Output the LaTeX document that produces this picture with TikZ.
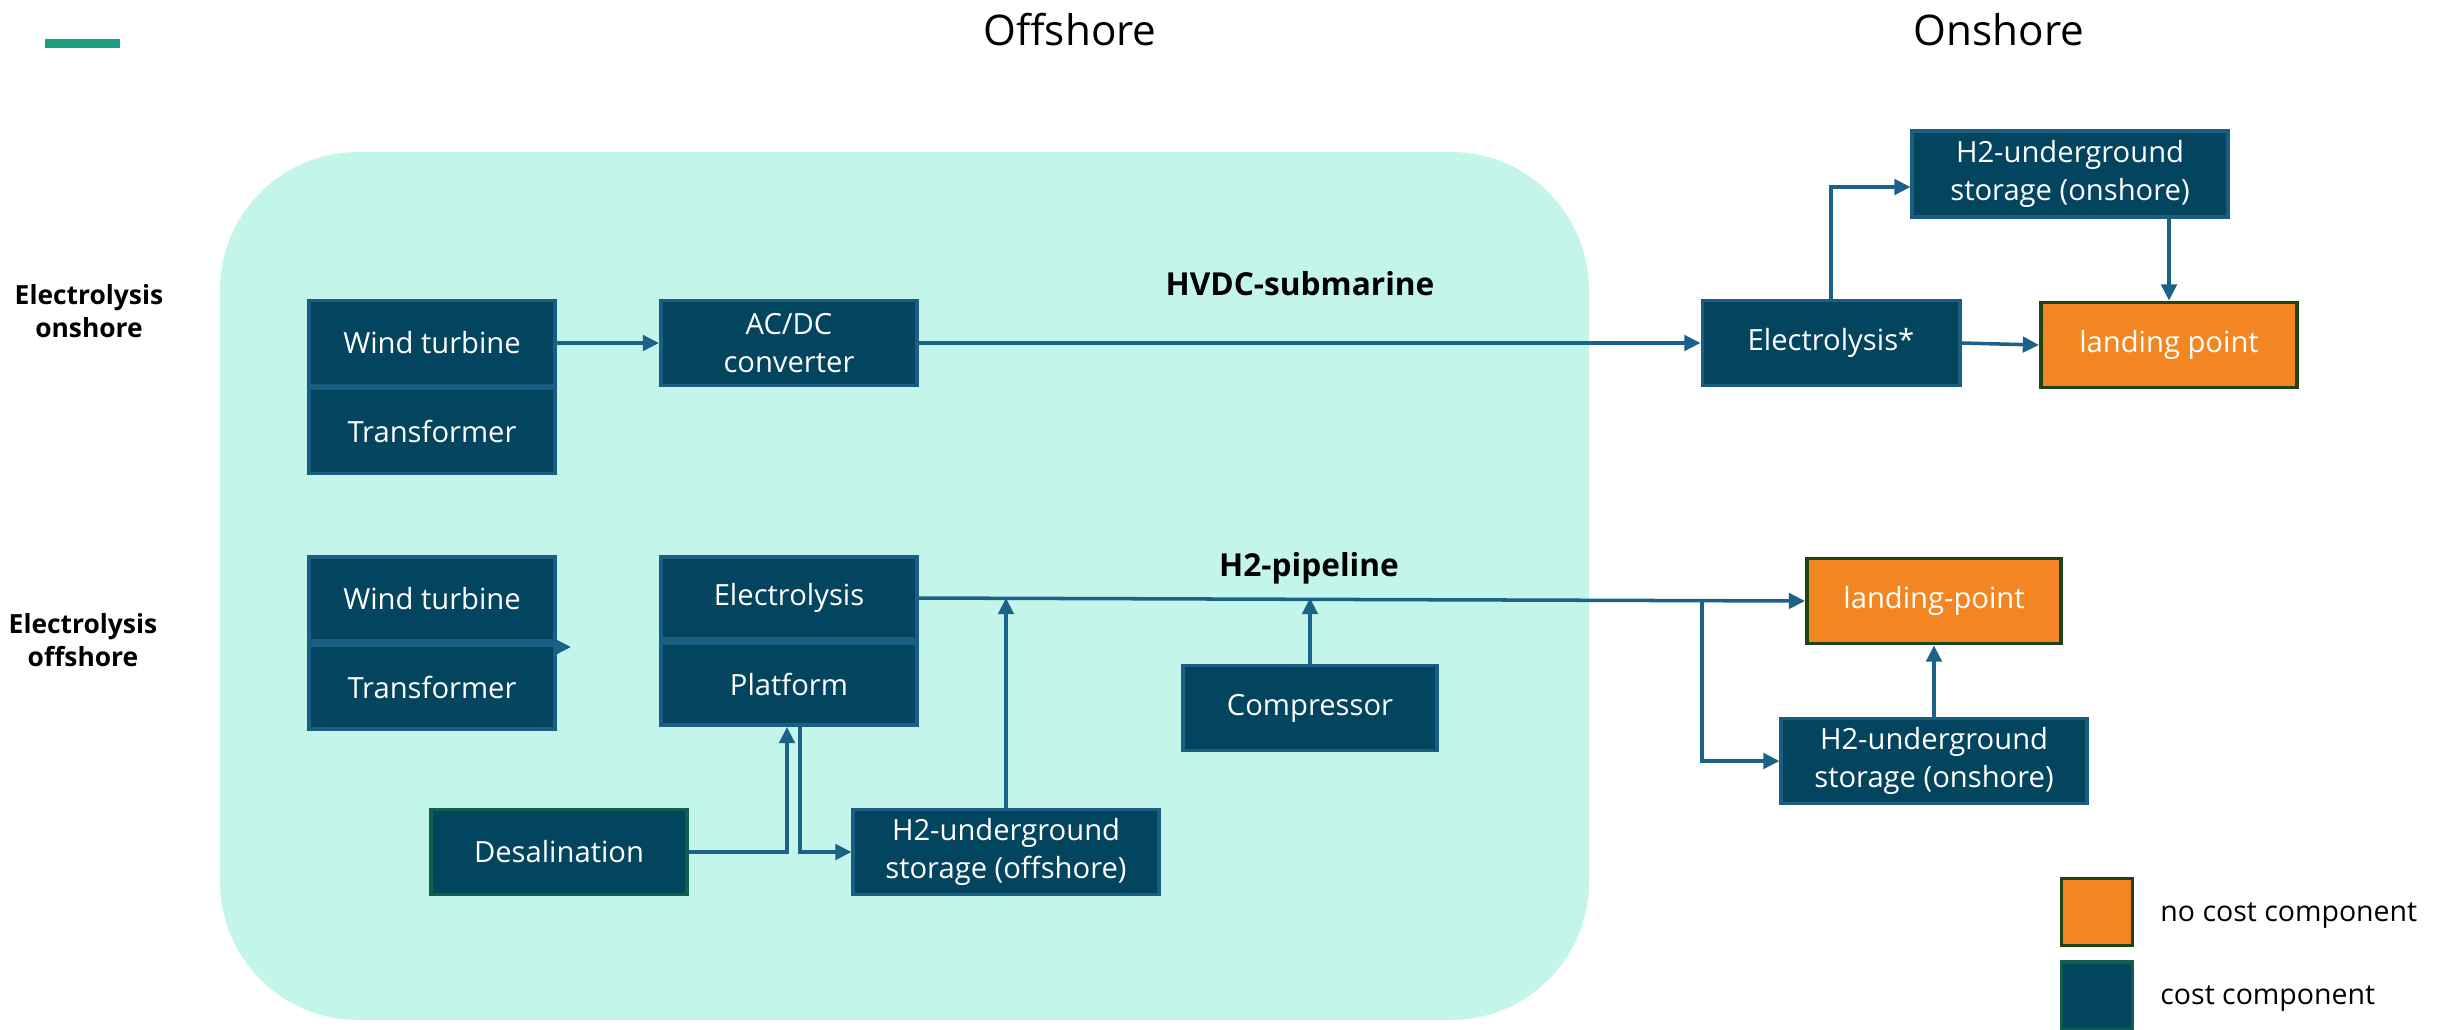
\documentclass[tikz,border=0pt]{standalone}
\usepackage{fontspec}
\setmainfont{Open Sans}
\usetikzlibrary{positioning,arrows.meta}

\definecolor{boxfill}{HTML}{03445E}
\definecolor{boxline}{HTML}{1B5E84}
\definecolor{flowline}{HTML}{1A6287}
\definecolor{landfill}{HTML}{F38623}
\definecolor{landline}{HTML}{1F4513}
\definecolor{saltline}{HTML}{0E5F4D}
\definecolor{seabg}{HTML}{C4F5EA}
\definecolor{dashgreen}{HTML}{1A9E80}

\begin{document}
\begin{tikzpicture}[x=0.01cm, y=-0.01cm,
  >={Triangle[length=4.6pt,width=4.4pt]},
  box/.style={draw=boxline, fill=boxfill, line width=1.1pt, text=white, align=center,
    minimum width=2.46cm, minimum height=0.85cm, inner sep=2pt,
    font=\fontsize{8.3}{10.6}\selectfont},
  nocost/.style={box, draw=landline, fill=landfill},
  flow/.style={->, draw=flowline, line width=1pt},
  rowlabel/.style={font=\bfseries\fontsize{7.5}{9.4}\selectfont, align=center},
  sidehead/.style={font=\fontsize{12}{14}\selectfont},
  route/.style={font=\bfseries\fontsize{9}{11}\selectfont},
  keytext/.style={anchor=west, font=\fontsize{8.1}{10}\selectfont}]
  \useasboundingbox (0,0) rectangle (2447,1029);

  % offshore area
  \fill[seabg, rounded corners=1.38cm] (220,152) rectangle (1589,1020);
  \fill[dashgreen] (45,39) rectangle (120,48);

  \node[sidehead] (offhead) at (1070,30) {Offshore};
  \node[sidehead] (onhead)  at (1999,30) {Onshore};
  \node[rowlabel] (rowon)  at (89,311) {Electrolysis\\onshore};
  \node[rowlabel] (rowoff) at (83,640) {Electrolysis\\offshore};
  \node[route] (hvdc) at (1300,284) {HVDC-submarine};
  \node[route] (pipe) at (1309,568) {H2-pipeline};

  % electrolysis onshore
  \node[box] (tr1) at (432,431) {Transformer};
  \node[box] (wt1) at (432,343) {Wind turbine};
  \node[box, minimum width=2.56cm] (acdc) at (789,343) {AC/DC\\converter};
  \node[box, minimum width=2.57cm] (elxs) at (1831,343) {Electrolysis*};
  \node[nocost, minimum width=2.56cm] (lp1) at (2169,345) {landing point};
  \node[box, minimum width=3.15cm, minimum height=0.86cm] (st1) at (2070,174) {H2-underground\\storage (onshore)};

  \draw[flow] (wt1.east) -- (acdc.west);
  \draw[flow] (acdc.east) -- (elxs.west);
  \draw[flow] (elxs.east) -- (lp1.west);
  \draw[flow] (elxs.north) |- ([yshift=-0.13cm]st1.west);
  \draw[flow] (st1.south -| lp1.north) -- (lp1.north);

  % electrolysis offshore
  \node[box, minimum height=0.84cm] (tr2) at (432,687) {Transformer};
  \node[box, minimum height=0.84cm] (wt2) at (432,599) {Wind turbine};
  \node[box, minimum width=2.56cm, minimum height=0.82cm] (plat) at (789,684) {Platform};
  \node[box, minimum width=2.56cm, minimum height=0.82cm] (elo) at (789,598) {Electrolysis};
  \node[box, minimum width=2.54cm] (comp) at (1310,708) {Compressor};
  \node[box, draw=saltline, minimum width=2.55cm] (desal) at (559,852) {Desalination};
  \node[box, minimum width=3.05cm] (st2) at (1006,852) {H2-underground\\storage (offshore)};
  \node[nocost, minimum width=2.54cm] (lp2) at (1934,601) {landing-point};
  \node[box, minimum width=3.05cm] (st3) at (1934,761) {H2-underground\\storage (onshore)};

  \coordinate (stub) at (571,647);
  \coordinate (tap) at (1702,600);
  \draw[flow] (tr2.east |- stub) -- (stub);
  \draw[flow] (elo.east) -- (lp2.west);
  \draw[flow] (st2.north) -- (st2.north |- elo.east);
  \draw[flow] (comp.north) -- (comp.north |- elo.east);
  \draw[flow] (desal.east) -| ([xshift=-0.02cm]plat.south);
  \draw[flow] ([xshift=0.11cm]plat.south) |- (st2.west);
  \draw[flow] (tap) |- (st3.west);
  \draw[flow] (st3.north) -- (lp2.south);

  % legend
  \node[nocost, minimum width=0.71cm, minimum height=0.67cm] (key1) at (2097,912) {};
  \node[box, draw=saltline, minimum width=0.71cm, minimum height=0.68cm] (key2) at (2097,996) {};
  \node[keytext] (key1txt) at (2148,916) {no cost component};
  \node[keytext] (key2txt) at (2148,999) {cost component};
\end{tikzpicture}
\end{document}
